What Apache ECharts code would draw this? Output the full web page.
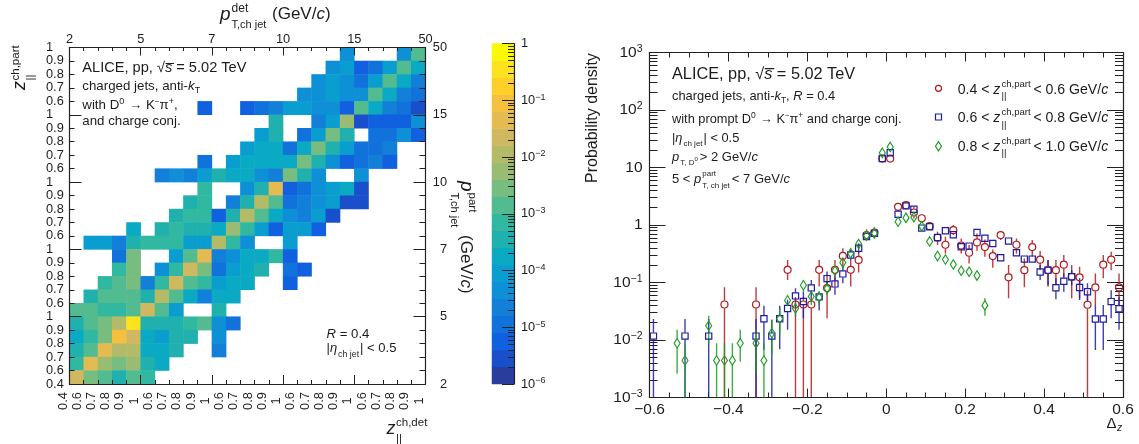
<!DOCTYPE html>
<html><head><meta charset="utf-8">
<style>html,body{margin:0;padding:0;background:#fff}#c{width:1139px;height:444px}</style>
<script src="https://cdn.jsdelivr.net/npm/echarts@6/dist/echarts.min.js"></script>
</head><body><div id="c"></div>
<script>
const _ = null;
// ---- response matrix: index of the log colour bin per cell (top row first, 25 columns)
const rowTop00=[_,_,_,_,_,_,_,_,_,_,_,_,_,_,_,_,_,_,_,5,_,_,_,5,10];
const rowTop01=[_,_,_,_,_,_,_,_,_,_,_,_,_,_,_,_,_,_,5,6,2,3,6,10,7];
const rowTop02=[_,_,_,_,_,_,_,_,_,_,_,_,_,_,_,_,_,5,6,5,3,6,10,7,4];
const rowTop03=[_,_,_,_,_,_,_,_,_,_,_,_,_,_,_,_,5,5,6,5,5,10,7,4,3];
const rowTop04=[_,_,_,_,_,_,_,_,_,2,_,_,2,3,4,6,6,5,5,2,10,7,4,3,1];
const rowTop05=[_,_,_,_,_,_,_,_,_,_,_,_,_,_,8,_,_,4,6,12,1,2,2,2,5];
const rowTop06=[_,_,_,_,_,_,_,_,_,_,_,_,_,6,8,_,3,6,11,8,_,3,3,5,2];
const rowTop07=[_,_,_,_,_,_,_,_,_,_,_,_,6,7,7,3,7,11,8,6,3,3,4,_,_];
const rowTop08=[_,_,_,_,_,_,_,_,_,3,_,6,7,7,7,7,11,8,5,2,3,4,2,_,_];
const rowTop09=[_,_,_,_,_,_,4,5,4,6,8,7,7,5,4,11,8,5,_,_,5,_,_,_,_];
const rowTop10=[_,_,_,_,_,_,_,_,_,9,_,_,5,8,15,2,3,5,6,7,1,_,_,_,_];
const rowTop11=[_,_,_,_,_,_,_,_,8,9,_,4,8,13,10,3,4,5,6,1,1,_,_,_,_];
const rowTop12=[_,_,_,_,_,_,_,8,9,9,2,8,13,10,7,5,4,6,1,_,_,_,_,_,_];
const rowTop13=[_,_,_,_,7,_,8,9,8,8,7,12,9,6,2,6,6,2,_,_,_,_,_,_,_];
const rowTop14=[_,6,6,4,8,9,9,9,6,6,13,9,5,_,_,6,_,_,_,_,_,_,_,_,_];
const rowTop15=[_,_,_,3,11,_,_,6,10,15,4,5,7,7,9,2,_,_,_,_,_,_,_,_,_];
const rowTop16=[_,_,_,9,11,_,5,9,14,11,3,6,7,8,_,3,2,_,_,_,_,_,_,_,_];
const rowTop17=[_,_,9,10,11,4,9,14,10,9,6,7,7,_,_,2,_,_,_,_,_,_,_,_,_];
const rowTop18=[_,8,10,10,10,8,13,10,7,4,7,7,_,_,_,_,_,_,_,_,_,_,_,_,_];
const rowTop19=[10,10,9,9,10,14,10,6,_,_,8,_,_,_,_,_,_,_,_,_,_,_,_,_,_];
const rowTop20=[8,10,11,13,18,8,8,8,9,10,5,3,_,_,_,_,_,_,_,_,_,_,_,_,_];
const rowTop21=[7,9,11,16,14,7,6,8,8,_,5,_,_,_,_,_,_,_,_,_,_,_,_,_,_];
const rowTop22=[8,10,15,13,13,7,7,8,_,_,4,_,_,_,_,_,_,_,_,_,_,_,_,_,_];
const rowTop23=[9,15,12,11,12,8,7,_,_,_,_,_,_,_,_,_,_,_,_,_,_,_,_,_,_];
const rowTop24=[14,11,10,8,10,9,_,_,_,_,_,_,_,_,_,_,_,_,_,_,_,_,_,_,_];
const matrixRows=[rowTop00,rowTop01,rowTop02,rowTop03,rowTop04,rowTop05,rowTop06,rowTop07,rowTop08,rowTop09,rowTop10,rowTop11,rowTop12,rowTop13,rowTop14,rowTop15,rowTop16,rowTop17,rowTop18,rowTop19,rowTop20,rowTop21,rowTop22,rowTop23,rowTop24];
const zTicks=['0.4','0.6','0.7','0.8','0.9','1','0.6','0.7','0.8','0.9','1','0.6','0.7','0.8','0.9','1','0.6','0.7','0.8','0.9','1','0.6','0.7','0.8','0.9','1'];
const ptTicks=['2','5','7','10','15','50'];
const binColors=['#2a3c9c','#1a4fcc','#1060e0','#1272dc','#127fd8','#0e90d6','#0a9dd0','#0aaac4','#20b0ae','#30b8a0','#52bb90','#78bd80','#99bc72','#b4bb68','#d0b860','#e3bb50','#f5c03c','#fdcf28','#fde31e','#f9f903'];

// ---- probability density vs delta z: centre, value, error-bar low, error-bar high
const redDz=[-0.41,-0.33,-0.25,-0.23,-0.21,-0.19,-0.17,-0.15,-0.13,-0.11,-0.09,-0.07,-0.05,-0.03,-0.01,0.01,0.03,0.05,0.07,0.09,0.11,0.13,0.15,0.17,0.19,0.21,0.23,0.25,0.27,0.29,0.31,0.33,0.35,0.37,0.39,0.41,0.43,0.45,0.47,0.49,0.51,0.53,0.55,0.57,0.59];
const redP=[.0414,.0414,.166,.0414,.0414,.0414,.166,.08,.166,.29,.166,.247,.67,.736,14.3,14.3,2.07,2.21,1.65,1.31,.955,.6,.453,.813,.44,.329,.498,.413,.288,.667,.123,.453,.164,.413,.249,.164,.164,.204,.126,.123,.041,.082,.204,.249,.082];
const redLo=[.001,.001,.111,.001,.001,.001,.085,.024,.085,.177,.085,.149,.549,.587,_,_,_,_,1.3,_,_,.448,.321,.667,.321,.215,.356,.28,.181,.546,.053,.321,.083,.28,.164,.0845,.09,.126,.053,.053,.001,.0406,.118,.164,.0406];
const redHi=[.0828,.0828,.247,.056,.056,.056,.247,.136,.247,.393,.247,.45,.841,.912,_,_,_,_,2.07,_,_,.76,.624,1,.583,.448,.713,.561,.376,.78,.201,.583,.262,.546,.352,.245,.245,.3,.201,.188,.0733,.144,.3,.343,.144];
const blueDz=[-0.59,-0.51,-0.45,-0.33,-0.31,-0.29,-0.27,-0.25,-0.23,-0.21,-0.19,-0.17,-0.15,-0.13,-0.11,-0.09,-0.07,-0.05,-0.03,-0.01,0.01,0.03,0.05,0.07,0.09,0.11,0.13,0.15,0.17,0.19,0.21,0.23,0.25,0.27,0.29,0.31,0.33,0.35,0.37,0.39,0.41,0.43,0.45,0.47,0.49,0.51,0.53,0.55,0.57,0.59];
const blueP=[.0117,.0117,.0117,.0117,.0234,.0117,.0234,.0354,.0585,.0467,.0805,.0562,.117,.0946,.141,.3,.393,.63,.716,14.3,18,1.54,2.15,1.88,.883,.933,.607,.794,.676,.419,.43,.741,.59,.478,.269,.525,.329,.255,.255,.152,.164,.081,.105,.126,.082,.069,.0232,.0232,.0465,.035];
const blueLo=[.001,.001,.001,.001,.0068,.001,.0069,.015,.0357,.024,.055,.0326,.085,.061,.097,.247,.322,_,_,_,_,_,_,_,_,_,_,_,_,_,_,_,_,_,_,_,_,_,_,.11,.09,.0509,.069,.09,.0496,.0465,.0067,.0067,.0238,.015];
const blueHi=[.0233,.0233,.0233,.0233,.0393,.0224,.0393,.0499,.0795,.0696,.111,.0696,.155,.127,.189,.368,.48,_,_,_,_,_,_,_,_,_,_,_,_,_,_,_,_,_,_,_,_,_,_,.201,.245,.118,.144,.164,.118,.0966,.0406,.0406,.0733,.0566];
const greenDz=[-0.53,-0.51,-0.45,-0.43,-0.41,-0.39,-0.37,-0.33,-0.31,-0.29,-0.27,-0.25,-0.23,-0.21,-0.19,-0.17,-0.15,-0.13,-0.11,-0.09,-0.07,-0.05,-0.03,-0.01,0.01,0.03,0.05,0.07,0.09,0.11,0.13,0.15,0.17,0.19,0.21,0.23,0.25];
const greenP=[.0088,.0044,.0177,.0044,.0044,.0044,.0088,.0088,.0044,.0132,.0234,.0486,.0354,.0897,.057,.055,.079,.16,.222,.323,.468,.653,.716,18,22.8,1.14,1.33,1.37,.955,.518,.288,.251,.206,.16,.154,.132,.04];
const greenLo=[.0026,.001,.0088,.001,.001,.001,.0042,.0026,.001,.0055,.0123,.0408,.0256,.0696,.0408,.0408,.061,.127,.177,_,_,_,_,_,_,_,_,_,_,_,_,_,_,_,_,_,.0265];
const greenHi=[.015,.0088,.0263,.0088,.0088,.0088,.015,.015,.0088,.0224,.0357,.061,.0467,.111,.0744,.0696,.097,.189,.264,_,_,_,_,_,_,_,_,_,_,_,_,_,_,_,_,_,.053];
const dzTicks=[-0.6,-0.4,-0.2,0,0.2,0.4,0.6];

const FF='"Liberation Sans"', INK='#1c1c1c', AX='#222';
const RED='#b01a1f', BLUE='#1c1ca6', GREEN='#1d9e23';
const chart=echarts.init(document.getElementById('c'),null,{renderer:'canvas'});

// ---- flowing text made of real text runs: italic, raised/lowered, stacked sup+sub
const mctx=document.createElement('canvas').getContext('2d');
const gfx=[];
function fontOf(r){return (r.i?'italic ':'')+r.s+'px '+FF;}
function flow(x0,y0,rot,runs){
  let a=0; const c=Math.cos(rot), s=Math.sin(rot);
  runs.forEach(r=>{
    mctx.font=fontOf(r);
    const w=mctx.measureText(r.t).width, b=(r.dy||0)+0.35*r.s;
    gfx.push({type:'text',z:50,x:x0+a*c-b*s,y:y0-a*s-b*c,rotation:rot,silent:true,
      style:{text:r.t,font:fontOf(r),fill:INK,align:'left',verticalAlign:'middle'}});
    if(!r.hold) a+=w+(r.gap||0);
  });
}
const R=(t,s,o)=>Object.assign({t,s},o||{});

// left panel titles
flow(220,21.5,0,[R('p',19,{i:1,gap:1}),R('det',12,{dy:8.5,hold:1}),R('T,ch jet',11,{dy:-7})]);
flow(272,20,0,[R('(GeV/',17),R('c',17,{i:1}),R(')',17)]);
flow(26.5,90,Math.PI/2,[R('z',18,{i:1,gap:0.5}),R('ch,part',11.5,{dy:7,hold:1}),R('||',11.5,{dy:-8.5})]);
flow(386.5,435,0,[R('z',18,{i:1,gap:0.5}),R('ch,det',11.5,{dy:8,hold:1}),R('||',11.5,{dy:-7.5})]);
flow(460,181,-Math.PI/2,[R('p',19,{i:1,gap:1}),R('part',11.5,{dy:8,hold:1}),R('T,ch jet',11,{dy:-10})]);
flow(459.5,235,-Math.PI/2,[R('(GeV/',17),R('c',17,{i:1}),R(')',17)]);
// left panel notes
flow(82.3,73,0,[R('ALICE, pp, ',14.6),R('√',14.6),R('s\u0305',14.6,{i:1}),R(' = 5.02 TeV',14.6)]);
flow(82.3,91,0,[R('charged jets, anti-',13.3),R('k',13.3,{i:1}),R('T',9,{dy:-3})]);
flow(82.3,110,0,[R('with D',13.3),R('0',9,{dy:5,gap:1}),R(' \u2192 K',13.3),R('\u2212',8,{dy:5}),R('\u03c0',13.3),R('+',9,{dy:5}),R(',',13.3)]);
flow(82.3,126,0,[R('and charge conj.',13.3)]);
flow(326.5,339,0,[R('R',13.2,{i:1}),R(' = 0.4',13.2)]);
flow(326.5,352.7,0,[R('|',13),R('\u03b7',13,{i:1,gap:1}),R('ch jet',8.8,{dy:-4.5,gap:1}),R('| < 0.5',13)]);
// right panel notes
flow(598.5,183,Math.PI/2,[R('Probability density',16)]);
flow(672,80,0,[R('ALICE, pp, ',16.3),R('√',16.3),R('s\u0305',16.3,{i:1}),R(' = 5.02 TeV',16.3)]);
flow(672,101,0,[R('charged jets, anti-',12.9),R('k',12.9,{i:1}),R('T',8.5,{dy:-3}),R(', ',12.9),R('R',12.9,{i:1}),R(' = 0.4',12.9)]);
flow(672,124,0,[R('with prompt D',12.8),R('0',8.5,{dy:5,gap:1}),R(' \u2192 K',12.8),R('\u2212',7.5,{dy:5}),R('\u03c0',12.8),R('+',8.5,{dy:5}),R(' and charge conj.',12.8)]);
flow(672,142.7,0,[R('|',12.8),R('\u03b7',12.8,{i:1,gap:1}),R('ch jet',8,{dy:-4,gap:1}),R('| < 0.5',12.8)]);
flow(672,161.7,0,[R('p',13,{i:1,gap:1}),R('T, D',8,{dy:-4}),R('0',6,{dy:0,gap:2}),R('> 2 GeV/',13),R('c',13,{i:1})]);
flow(672,184,0,[R('5 < ',13),R('p',13,{i:1,gap:1}),R('part',8,{dy:7,hold:1}),R('T, ch jet',8,{dy:-5,gap:2}),R('< 7 GeV/',13),R('c',13,{i:1})]);
flow(1106.5,429,0,[R('\u0394',15)]);
flow(1117,432,0,[R('z',10.5,{i:1})]);
// legend
[['0.4','0.6',95],['0.6','0.8',123.5],['0.8','1.0',152]].forEach(l=>{
  flow(957.7,l[2],0,[R(l[0]+' < ',14.1),R('z',14.1,{i:1,gap:1}),R('ch,part',9.6,{dy:7.5,hold:1}),R('||',9.6,{dy:-5,gap:27}),R('< '+l[1]+' GeV/',14.1),R('c',14.1,{i:1})]);
});
const legStroke=(c)=>({fill:'none',stroke:c,lineWidth:1.2});
gfx.push({type:'circle',z:50,shape:{cx:938.5,cy:88.3,r:3},style:legStroke(RED)});
gfx.push({type:'rect',z:50,shape:{x:935.5,y:114,width:6,height:6},style:legStroke(BLUE)});
gfx.push({type:'polygon',z:50,shape:{points:[[938.5,141.5],[941.5,146.2],[938.5,150.9],[935.5,146.2]]},style:legStroke(GREEN)});

// ---- grids
const G1={left:69.5,top:47.5,width:356,height:336.5};
const G2={left:492,top:43.5,width:22,height:340.5};
const G3={left:649.5,top:52.5,width:473.5,height:345};
const grid=[G1,G1,G1,G2,G2,G2,G3,G3];   // 0 heat, 1 axes, 2 long ticks, 3 bar, 4 bar major, 5 bar minor, 6 data, 7 minor

const hidden={show:false};
const line={show:true,onZero:false,lineStyle:{color:AX,width:1.2}};
const noLine={show:false,onZero:false};
const catAxis=(g,n)=>({type:'category',gridIndex:g,data:Array.from({length:n},(_,i)=>i),axisLine:hidden,axisTick:hidden,axisLabel:hidden,splitLine:hidden});
const tickStyle={color:AX,width:1};
const lab=(o)=>Object.assign({color:INK,fontFamily:FF,fontSize:12.8},o);
const supRich={a:{fontFamily:FF,fontSize:12.8,color:INK},b:{fontFamily:FF,fontSize:9,color:INK,verticalAlign:'top',padding:[0,0,6,0]}};
const supRichR={a:{fontFamily:FF,fontSize:15.5,color:INK},b:{fontFamily:FF,fontSize:10.5,color:INK,verticalAlign:'top',padding:[0,0,7,0]}};

function decadeMinor(lo,hi){const v=[];for(let e=lo;e<hi;e++)for(let k=2;k<=9;k++)v.push(+(k+'e'+e));return v;}
function decades(lo,hi){const v=[];for(let e=lo;e<=hi;e++)v.push(+('1e'+e));return v;}
const decFmt=(v)=>{const e=Math.round(Math.log10(v));if(e===0)return '1';if(e===1)return '10';return '{a|10}{b|'+String(e).replace('-','\u2212')+'}';};

const xAxis=[
 catAxis(0,25),
 {z:5,type:'value',gridIndex:1,position:'bottom',min:0,max:25,interval:1,splitLine:hidden,axisLine:line,
  axisTick:{inside:true,length:4,lineStyle:tickStyle},
  axisLabel:lab({rotate:90,align:'center',verticalAlign:'bottom',margin:17,formatter:v=>zTicks[v]})},
 {z:5,type:'value',gridIndex:1,position:'top',min:0,max:25,interval:5,splitLine:hidden,axisLine:line,
  axisTick:{inside:true,length:8,lineStyle:tickStyle},minorTick:{show:true,splitNumber:5,length:3.5,lineStyle:tickStyle},
  axisLabel:lab({margin:2,formatter:v=>ptTicks[v/5]})},
 {z:5,type:'value',gridIndex:2,position:'bottom',min:0,max:25,interval:5,splitLine:hidden,axisLine:noLine,
  axisTick:{inside:true,length:9,lineStyle:tickStyle},axisLabel:hidden},
 catAxis(3,1),
 {type:'value',gridIndex:4,min:0,max:1,show:false},
 {type:'value',gridIndex:5,min:0,max:1,show:false},
 {z:5,type:'value',gridIndex:6,position:'bottom',min:-0.6,max:0.6,interval:0.2,splitLine:hidden,axisLine:line,
  axisTick:{inside:true,length:9,lineStyle:tickStyle},minorTick:{show:true,splitNumber:4,length:5,lineStyle:tickStyle},
  axisLabel:lab({fontSize:15.5,margin:4,formatter:v=>{const t=dzTicks.find(d=>Math.abs(d-v)<1e-6);return String(t).replace('-','\u2212');}})},
 {z:5,type:'value',gridIndex:6,position:'top',min:-0.6,max:0.6,interval:0.2,splitLine:hidden,axisLine:line,
  axisTick:{inside:true,length:9,lineStyle:tickStyle},minorTick:{show:true,splitNumber:4,length:5,lineStyle:tickStyle},axisLabel:hidden},
 {type:'value',gridIndex:7,min:-0.6,max:0.6,show:false}
];
const logAxis=(g,pos,min,max,o)=>Object.assign({z:5,type:'log',logBase:10,gridIndex:g,position:pos,min,max,splitLine:hidden,minorTick:hidden},o);
const yAxis=[
 catAxis(0,25),
 {z:5,type:'value',gridIndex:1,position:'left',min:0,max:25,interval:1,splitLine:hidden,axisLine:line,
  axisTick:{inside:true,length:5,lineStyle:tickStyle},
  axisLabel:lab({align:'left',margin:23.5,formatter:v=>zTicks[v]})},
 {z:5,type:'value',gridIndex:1,position:'right',min:0,max:25,interval:5,splitLine:hidden,axisLine:line,
  axisTick:{inside:true,length:12,lineStyle:tickStyle},minorTick:{show:true,splitNumber:5,length:6,lineStyle:tickStyle},
  axisLabel:lab({align:'right',margin:21.6,formatter:v=>ptTicks[v/5]})},
 {z:5,type:'value',gridIndex:2,position:'left',min:0,max:25,interval:5,splitLine:hidden,axisLine:noLine,
  axisTick:{inside:true,length:12,lineStyle:tickStyle},axisLabel:hidden},
 catAxis(3,20),
 logAxis(4,'right',1e-6,1,{axisLine:line,axisTick:{inside:true,length:12,lineStyle:tickStyle,customValues:decades(-6,0)},
  axisLabel:lab({align:'left',margin:7,customValues:decades(-6,0),formatter:decFmt,rich:supRich})}),
 logAxis(5,'right',1e-6,1,{axisLine:noLine,axisTick:{inside:true,length:6,lineStyle:tickStyle,customValues:decadeMinor(-6,0)},axisLabel:hidden}),
 logAxis(6,'left',1e-3,1e3,{axisLine:line,axisTick:{inside:true,length:16,lineStyle:tickStyle,customValues:decades(-3,3)},
  axisLabel:lab({fontSize:15.5,margin:7,customValues:decades(-3,3),formatter:decFmt,rich:supRichR})}),
 logAxis(6,'right',1e-3,1e3,{axisLine:line,axisTick:{inside:true,length:16,lineStyle:tickStyle,customValues:decades(-3,3)},axisLabel:hidden}),
 logAxis(7,'left',1e-3,1e3,{axisLine:noLine,axisTick:{inside:true,length:8,lineStyle:tickStyle,customValues:decadeMinor(-3,3)},axisLabel:hidden}),
 logAxis(7,'right',1e-3,1e3,{axisLine:noLine,axisTick:{inside:true,length:8,lineStyle:tickStyle,customValues:decadeMinor(-3,3)},axisLabel:hidden})
];
// axis indices used by the series
const X={heat:0,bar:4,data:7}, Y={heat:0,bar:4,data:7};

// heat data from the rows
const heatData=[];
matrixRows.forEach((row,r)=>row.forEach((lv,c)=>{if(lv!==null)heatData.push([c,24-r,lv]);}));
const barData=binColors.map((_c,i)=>[0,i,i]);

function errorSeries(name,dz,p,lo,hi,color,gap){
  const data=dz.map((d,i)=>[d,p[i],lo[i],hi[i]]).filter(d=>d[2]!==null);
  return {name:name+' error',type:'custom',xAxisIndex:X.data,yAxisIndex:Y.data,clip:true,silent:true,z:6,data,
    encode:{x:0,y:1},
    renderItem:(params,api)=>{
      const c=api.coord([api.value(0),api.value(1)]);
      const l=api.coord([api.value(0),api.value(2)]);
      const h=api.coord([api.value(0),api.value(3)]);
      const st={stroke:color,lineWidth:1.4,opacity:0.85};
      const ch=[];
      if(h[1]<c[1]-gap)ch.push({type:'line',shape:{x1:c[0],y1:h[1],x2:c[0],y2:c[1]-gap},style:st});
      if(l[1]>c[1]+gap)ch.push({type:'line',shape:{x1:c[0],y1:c[1]+gap,x2:c[0],y2:l[1]},style:st});
      return {type:'group',children:ch};
    }};
}
function pointSeries(name,dz,p,color,symbol,size){
  return {name,type:'scatter',xAxisIndex:X.data,yAxisIndex:Y.data,z:7,silent:true,symbol,symbolSize:size,
    data:dz.map((d,i)=>[d,p[i]]),
    itemStyle:{color:'rgba(255,255,255,0)',borderColor:color,borderWidth:1.2,opacity:1}};
}
const N1='0.4 < z < 0.6 GeV/c',N2='0.6 < z < 0.8 GeV/c',N3='0.8 < z < 1.0 GeV/c';
chart.setOption({
  animation:false,
  grid:grid.map(g=>Object.assign({containLabel:false,show:false},g)),
  xAxis,yAxis,
  visualMap:{show:false,type:'piecewise',seriesIndex:[0,1],dimension:2,
    pieces:binColors.map((c,i)=>({value:i,color:c}))},
  series:[
   {name:'response matrix',type:'heatmap',xAxisIndex:X.heat,yAxisIndex:Y.heat,data:heatData,silent:true,z:1},
   {name:'colour scale',type:'heatmap',xAxisIndex:X.bar,yAxisIndex:Y.bar,data:barData,silent:true,z:1},
   errorSeries(N1,redDz,redP,redLo,redHi,RED,3.7),
   errorSeries(N2,blueDz,blueP,blueLo,blueHi,BLUE,3.3),
   errorSeries(N3,greenDz,greenP,greenLo,greenHi,GREEN,4.8),
   pointSeries(N1,redDz,redP,RED,'circle',7),
   pointSeries(N2,blueDz,blueP,BLUE,'rect',6.2),
   pointSeries(N3,greenDz,greenP,GREEN,'diamond',[6,9.5])
  ],
  graphic:{elements:gfx}
});
</script></body></html>
